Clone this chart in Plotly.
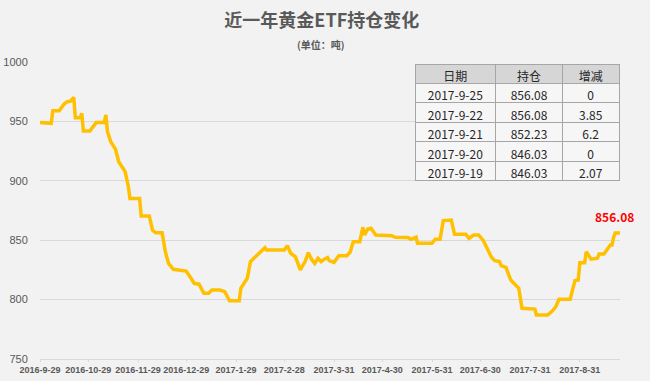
import plotly.graph_objects as go

# ---- data (vertices of holdings line, tonnes) ----
dates = [
    "2016-09-29", "2016-10-06", "2016-10-07", "2016-10-11", "2016-10-14", "2016-10-16",
    "2016-10-18", "2016-10-20", "2016-10-21", "2016-10-24", "2016-10-25", "2016-10-26",
    "2016-10-30", "2016-11-03", "2016-11-08", "2016-11-09", "2016-11-10", "2016-11-12",
    "2016-11-15", "2016-11-17", "2016-11-21", "2016-11-23", "2016-11-24", "2016-11-30",
    "2016-12-01", "2016-12-06", "2016-12-08", "2016-12-10", "2016-12-14", "2016-12-16",
    "2016-12-18", "2016-12-21", "2016-12-24", "2016-12-29", "2017-01-01", "2017-01-03",
    "2017-01-06", "2017-01-09", "2017-01-12", "2017-01-14", "2017-01-19", "2017-01-22",
    "2017-01-25", "2017-01-31", "2017-02-01", "2017-02-05", "2017-02-07", "2017-02-10",
    "2017-02-13", "2017-02-16", "2017-02-17", "2017-02-28", "2017-03-02", "2017-03-04",
    "2017-03-07", "2017-03-10", "2017-03-13", "2017-03-15", "2017-03-17", "2017-03-19",
    "2017-03-21", "2017-03-23", "2017-03-25", "2017-03-27", "2017-03-28", "2017-03-31",
    "2017-04-03", "2017-04-08", "2017-04-10", "2017-04-12", "2017-04-16", "2017-04-18",
    "2017-04-19", "2017-04-21", "2017-04-23", "2017-04-26", "2017-05-06", "2017-05-08",
    "2017-05-16", "2017-05-18", "2017-05-21", "2017-05-22", "2017-05-31", "2017-06-02",
    "2017-06-05", "2017-06-07", "2017-06-12", "2017-06-14", "2017-06-21", "2017-06-23",
    "2017-06-26", "2017-06-29", "2017-07-02", "2017-07-05", "2017-07-07", "2017-07-09",
    "2017-07-12", "2017-07-13", "2017-07-16", "2017-07-19", "2017-07-24", "2017-07-26",
    "2017-08-03", "2017-08-04", "2017-08-11", "2017-08-14", "2017-08-16", "2017-08-18",
    "2017-08-25", "2017-08-26", "2017-08-28", "2017-08-30", "2017-08-31", "2017-09-03",
    "2017-09-04", "2017-09-07", "2017-09-11", "2017-09-12", "2017-09-15", "2017-09-19",
    "2017-09-20", "2017-09-21", "2017-09-22", "2017-09-25",
]
holdings = [
    949, 948.4, 959, 959, 964.6, 966.6,
    967, 970.3, 953, 953, 956.8, 942,
    942, 949, 949, 955.4, 941.3, 933,
    926.5, 916, 907.7, 895, 885, 885,
    870.4, 870.4, 858.6, 856.3, 856.3, 840.3,
    830.5, 825.5, 825, 824, 818, 813.7,
    813, 805.3, 805.3, 808, 808, 806.7,
    799, 799, 809.5, 818, 832, 836,
    840.3, 843.7, 841.7, 841.7, 845.4, 839,
    836, 825, 832, 839.5, 834, 830.5,
    834.8, 832, 834, 835.3, 832.8, 831.4,
    837, 837, 839.8, 848.7, 848.7, 860.9,
    854.4, 859.4, 860, 854.4, 853.8, 852.5,
    852.2, 850.8, 852.5, 847.4, 847.4, 850.8,
    850.8, 866.5, 867, 855, 855, 851.6,
    854.4, 854.4, 849.6, 841.2, 835.6, 832.8,
    832, 828.6, 827.2, 816.5, 809.5, 792.7,
    792, 787, 787, 790.6, 794, 800.2,
    800.2, 805.8, 816, 816.5, 831, 831,
    840.3, 834, 834.8, 838.4, 838.4, 846.03,
    846.03, 852.23, 856.08, 856.08,
]

tick_dates = ["2016-09-29", "2016-10-29", "2016-11-29", "2016-12-29", "2017-01-29",
              "2017-02-28", "2017-03-31", "2017-04-30", "2017-05-31", "2017-06-30",
              "2017-07-31", "2017-08-31"]
tick_labels = ["2016-9-29", "2016-10-29", "2016-11-29", "2016-12-29", "2017-1-29",
               "2017-2-28", "2017-3-31", "2017-4-30", "2017-5-31", "2017-6-30",
               "2017-7-31", "2017-8-31"]

table_header = ["日期", "持仓", "增减"]
table_dates = ["2017-9-25", "2017-9-22", "2017-9-21", "2017-9-20", "2017-9-19"]
table_holdings = ["856.08", "856.08", "852.23", "846.03", "846.03"]
table_change = ["0", "3.85", "6.2", "0", "2.07"]

last_label = "856.08"

GOLD = "#FFC000"
GRAY_TXT = "#595959"
FONT = "Noto Sans CJK SC, Noto Sans, sans-serif"
NUMF = "Liberation Sans, Arial, sans-serif"

fig = go.Figure()
fig.add_trace(go.Scatter(
    x=dates, y=holdings, mode="lines",
    line=dict(color=GOLD, width=3.5),
    hoverinfo="skip", showlegend=False,
))

fig.add_trace(go.Table(
    domain=dict(x=[0.6466, 1.0], y=[0.55, 0.993]),
    columnwidth=[81, 67, 57],
    header=dict(values=table_header, fill_color="#D6D6D6",
                line=dict(color="#A6A6A6", width=1), height=19.4,
                font=dict(family=FONT, size=12, color="#262626"), align="center"),
    cells=dict(values=[table_dates, table_holdings, table_change],
               fill_color="#F6F6F6",
               line=dict(color="#A6A6A6", width=1), height=19.4,
               font=dict(family=FONT, size=12, color="#262626"), align="center"),
))

fig.add_annotation(
    x=dates[-1], y=holdings[-1], text="<b>" + last_label + "</b>",
    showarrow=False, xanchor="center", yanchor="middle",
    xshift=-6, yshift=16,
    font=dict(family=FONT, size=12, color="#FF0000"),
)

fig.update_layout(
    width=650, height=381,
    margin=dict(l=40, r=30, t=62, b=22, autoexpand=False),
    paper_bgcolor="#F2F2F2", plot_bgcolor="#F2F2F2",
    title=dict(text="<b>近一年黄金ETF持仓变化</b>", x=0.495, xanchor="center",
               y=0.945, yanchor="middle",
               font=dict(family=FONT, size=18, color=GRAY_TXT)),
    font=dict(family=FONT, color=GRAY_TXT),
)
fig.add_annotation(
    text="<b>(单位：吨)</b>", xref="paper", yref="paper",
    x=0.485, y=(381 - 44 - 22) / 297, xanchor="center", yanchor="middle",
    showarrow=False, font=dict(family=FONT, size=10, color=GRAY_TXT),
)

fig.update_xaxes(
    type="date", range=["2016-09-29", "2017-09-25"],
    tickvals=tick_dates, ticktext=tick_labels, tickangle=0, automargin=False,
    showgrid=False, showline=True, linecolor="#D9D9D9", linewidth=1,
    ticks="outside", ticklen=2, tickcolor="#D9D9D9",
    tickfont=dict(family=NUMF, size=9, color=GRAY_TXT, weight="bold"),
    zeroline=False,
)
fig.update_yaxes(
    range=[750, 1000], dtick=50, tick0=750, automargin=False,
    showgrid=True, gridcolor="#D9D9D9", gridwidth=1,
    zeroline=False, showline=False,
    ticks="outside", ticklen=9, tickcolor="rgba(0,0,0,0)",
    tickfont=dict(family=NUMF, size=11, color=GRAY_TXT),
)

fig.write_html("out.html", config={"displayModeBar": False},
               post_script="document.body.style.margin='0';document.body.style.padding='0';")
